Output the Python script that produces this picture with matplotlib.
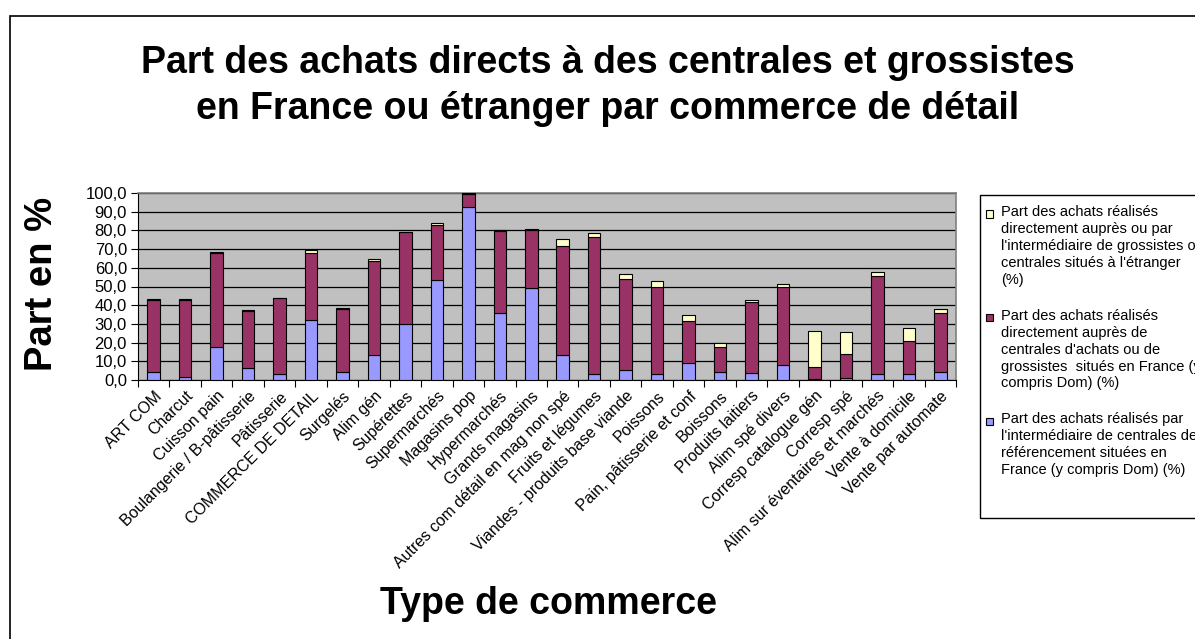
import numpy as np
import matplotlib.pyplot as plt
from matplotlib.patches import Rectangle
from matplotlib.ticker import FuncFormatter, FixedLocator

plt.rcParams["font.family"] = ["Liberation Sans", "DejaVu Sans"]

# %%
# data (values in %)
categories = [
    "ART COM", "Charcut", "Cuisson pain", "Boulangerie / B-pâtisserie", "Pâtisserie",
    "COMMERCE DE DETAIL", "Surgelés", "Alim gén", "Supérettes", "Supermarchés",
    "Magasins pop", "Hypermarchés", "Grands magasins", "Autres com détail en mag non spé",
    "Fruits et légumes", "Viandes - produits base viande", "Poissons",
    "Pain, pâtisserie et conf", "Boissons", "Produits laitiers", "Alim spé divers",
    "Corresp catalogue gén", "Corresp spé", "Alim sur éventaires et marchés",
    "Vente à domicile", "Vente par automate",
]
referencement_fr = [4.1, 1.4, 17.7, 6.6, 3.2, 32.3, 4.1, 13.4, 29.9, 53.6,
                    92.3, 36.0, 49.3, 13.4, 3.4, 5.6, 3.0,
                    9.0, 4.5, 3.6, 8.1, 0.7, 1.1, 3.2, 3.2, 4.1]
centrales_fr = [38.6, 41.3, 50.0, 30.1, 40.7, 35.4, 34.1, 50.2, 49.0, 29.2,
                7.2, 43.6, 31.0, 58.5, 72.9, 48.3, 46.6,
                22.7, 12.9, 38.0, 41.5, 6.3, 12.7, 52.2, 17.6, 31.6]
etranger = [0.8, 0.7, 0.6, 0.9, 0.2, 1.8, 0.5, 1.1, 0.5, 0.9,
            0.3, 0.5, 0.3, 3.4, 2.2, 2.6, 3.6,
            3.2, 2.5, 1.4, 2.0, 19.2, 11.8, 2.1, 7.0, 2.5]

legend_labels = [
    "Part des achats réalisés\ndirectement auprès ou par\nl'intermédiaire de grossistes ou\ncentrales situés à l'étranger\n(%)",
    "Part des achats réalisés\ndirectement auprès de\ncentrales d'achats ou de\ngrossistes  situés en France (y\ncompris Dom) (%)",
    "Part des achats réalisés par\nl'intermédiaire de centrales de\nréférencement situées en\nFrance (y compris Dom) (%)",
]
colors = ["#FFFFCC", "#993366", "#9999FF"]

# %%
W, H = 1195, 639
fig = plt.figure(figsize=(W / 100, H / 100), dpi=100)
ax = fig.add_axes([138 / W, 1 - 380 / H, (956 - 138) / W, (380 - 193) / H])

x = np.arange(len(categories))
blue = np.array(referencement_fr)
purple = np.array(centrales_fr)
yellow = np.array(etranger)
ax.bar(x, blue, width=0.4, color=colors[2], edgecolor="black", linewidth=0.8, zorder=3)
ax.bar(x, purple, width=0.4, bottom=blue, color=colors[1], edgecolor="black", linewidth=0.8, zorder=3)
ax.bar(x, yellow, width=0.4, bottom=blue + purple, color=colors[0], edgecolor="black", linewidth=0.8, zorder=3)

ax.set_facecolor("#C0C0C0")
ax.set_xlim(-0.5, len(categories) - 0.5)
ax.set_ylim(0, 100)
ax.set_yticks(np.arange(0, 101, 10))
ax.yaxis.set_major_formatter(FuncFormatter(lambda v, p: f"{v:.1f}".replace(".", ",")))
ax.grid(axis="y", color="black", linewidth=0.9, zorder=1)
ax.tick_params(axis="y", direction="out", length=5, labelsize=12, pad=3)

# category boundaries carry the tick marks, labels sit at the centres
ax.xaxis.set_major_locator(FixedLocator(np.arange(len(categories) + 1) - 0.5))
ax.xaxis.set_minor_locator(FixedLocator(x))
ax.tick_params(axis="x", which="major", direction="out", length=5, labelbottom=False)
ax.tick_params(axis="x", which="minor", length=0, labelsize=11.5, pad=6)
ax.set_xticklabels(categories, minor=True, rotation=45, ha="right", va="top", rotation_mode="anchor")

for side in ["top", "right"]:
    ax.spines[side].set_color("#808080")
    ax.spines[side].set_linewidth(1.2)
for side in ["left", "bottom"]:
    ax.spines[side].set_color("black")

# titles
fig.text(608 / W, 1 - 86 / H, "Part des achats directs à des centrales et grossistes\nen France ou étranger par commerce de détail",
         ha="center", va="center", fontsize=27, fontweight="bold", linespacing=1.33)
fig.text(42 / W, 1 - 284 / H, "Part en %", rotation=90, ha="center", va="center", fontsize=27.5, fontweight="bold")
fig.text(548 / W, 1 - 604 / H, "Type de commerce", ha="center", va="center", fontsize=27, fontweight="bold")

# chart area border (left and top visible)
fig.add_artist(Rectangle((9.5 / W, -0.1), 1.2, 1 - 15.7 / H + 0.1, transform=fig.transFigure,
                         fill=False, edgecolor="black", linewidth=1.2))

# legend, drawn by hand so it can run off the right edge like the original
fig.add_artist(Rectangle((980 / W, 1 - 518 / H), 0.3, (518 - 195) / H, transform=fig.transFigure,
                         fill=False, edgecolor="black", linewidth=1.0))
for i, (label, c) in enumerate(zip(legend_labels, colors)):
    y0 = 214 + i * 103.5
    fig.add_artist(Rectangle((986 / W, 1 - (y0 + 3.5) / H), 7 / W, 7 / H, transform=fig.transFigure,
                             facecolor=c, edgecolor="black", linewidth=0.8))
    fig.text(1001 / W, 1 - (y0 - 8.5) / H, label, ha="left", va="top", fontsize=10.5, linespacing=1.26)

fig.savefig("out.png", dpi=100)
